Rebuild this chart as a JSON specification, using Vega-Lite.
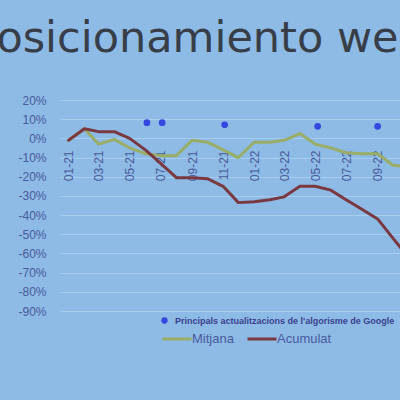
{
  "$schema": "https://vega.github.io/schema/vega-lite/v6.json",
  "width": 340,
  "height": 211,
  "autosize": {"type": "none"},
  "padding": {"left": 60, "top": 100, "right": 0, "bottom": 89},
  "background": "#8dbbe6",
  "config": {"view": {"stroke": null}, "font": "Liberation Sans"},
  "title": {
    "text": "Posicionamiento web",
    "anchor": "start",
    "frame": "group",
    "font": "DejaVu Sans",
    "fontSize": 43,
    "fontWeight": "normal",
    "color": "#373e48",
    "dx": -88,
    "offset": -1,
    "baseline": "alphabetic"
  },
  "datasets": {
    "series": [
      {"month": "2021-01-01", "series": "Mitjana", "value": -0.01},
      {"month": "2021-02-01", "series": "Mitjana", "value": 0.05},
      {"month": "2021-03-01", "series": "Mitjana", "value": -0.03},
      {"month": "2021-04-01", "series": "Mitjana", "value": -0.005},
      {"month": "2021-05-01", "series": "Mitjana", "value": -0.05},
      {"month": "2021-06-01", "series": "Mitjana", "value": -0.08},
      {"month": "2021-07-01", "series": "Mitjana", "value": -0.09},
      {"month": "2021-08-01", "series": "Mitjana", "value": -0.09},
      {"month": "2021-09-01", "series": "Mitjana", "value": -0.01},
      {"month": "2021-10-01", "series": "Mitjana", "value": -0.02},
      {"month": "2021-11-01", "series": "Mitjana", "value": -0.06},
      {"month": "2021-12-01", "series": "Mitjana", "value": -0.10},
      {"month": "2022-01-01", "series": "Mitjana", "value": -0.02},
      {"month": "2022-02-01", "series": "Mitjana", "value": -0.02},
      {"month": "2022-03-01", "series": "Mitjana", "value": -0.01},
      {"month": "2022-04-01", "series": "Mitjana", "value": 0.025},
      {"month": "2022-05-01", "series": "Mitjana", "value": -0.03},
      {"month": "2022-06-01", "series": "Mitjana", "value": -0.05},
      {"month": "2022-07-01", "series": "Mitjana", "value": -0.075},
      {"month": "2022-08-01", "series": "Mitjana", "value": -0.08},
      {"month": "2022-09-01", "series": "Mitjana", "value": -0.08},
      {"month": "2022-10-01", "series": "Mitjana", "value": -0.14},
      {"month": "2022-11-01", "series": "Mitjana", "value": -0.15},
      {"month": "2021-01-01", "series": "Acumulat", "value": -0.01},
      {"month": "2021-02-01", "series": "Acumulat", "value": 0.05},
      {"month": "2021-03-01", "series": "Acumulat", "value": 0.035},
      {"month": "2021-04-01", "series": "Acumulat", "value": 0.035},
      {"month": "2021-05-01", "series": "Acumulat", "value": 0.0},
      {"month": "2021-06-01", "series": "Acumulat", "value": -0.06},
      {"month": "2021-07-01", "series": "Acumulat", "value": -0.13},
      {"month": "2021-08-01", "series": "Acumulat", "value": -0.205},
      {"month": "2021-09-01", "series": "Acumulat", "value": -0.205},
      {"month": "2021-10-01", "series": "Acumulat", "value": -0.21},
      {"month": "2021-11-01", "series": "Acumulat", "value": -0.25},
      {"month": "2021-12-01", "series": "Acumulat", "value": -0.335},
      {"month": "2022-01-01", "series": "Acumulat", "value": -0.33},
      {"month": "2022-02-01", "series": "Acumulat", "value": -0.32},
      {"month": "2022-03-01", "series": "Acumulat", "value": -0.305},
      {"month": "2022-04-01", "series": "Acumulat", "value": -0.25},
      {"month": "2022-05-01", "series": "Acumulat", "value": -0.25},
      {"month": "2022-06-01", "series": "Acumulat", "value": -0.27},
      {"month": "2022-07-01", "series": "Acumulat", "value": -0.32},
      {"month": "2022-08-01", "series": "Acumulat", "value": -0.37},
      {"month": "2022-09-01", "series": "Acumulat", "value": -0.42},
      {"month": "2022-10-01", "series": "Acumulat", "value": -0.52},
      {"month": "2022-11-01", "series": "Acumulat", "value": -0.62}
    ],
    "updates": [
      {"month": "2021-06-04", "label": "Principals actualitzacions de l'algorisme de Google", "value": 0.082},
      {"month": "2021-07-04", "label": "Principals actualitzacions de l'algorisme de Google", "value": 0.082},
      {"month": "2021-11-04", "label": "Principals actualitzacions de l'algorisme de Google", "value": 0.071},
      {"month": "2022-05-06", "label": "Principals actualitzacions de l'algorisme de Google", "value": 0.063},
      {"month": "2022-09-01", "label": "Principals actualitzacions de l'algorisme de Google", "value": 0.063}
    ]
  },
  "layer": [
    {
      "data": {"name": "series"},
      "mark": {"type": "line", "strokeWidth": 3, "clip": true, "strokeCap": "round", "strokeJoin": "round"},
      "encoding": {
        "x": {
          "field": "month",
          "type": "temporal",
          "scale": {
            "type": "utc",
            "nice": false,
            "domain": [
              {"year": 2020, "month": 12, "date": 15, "utc": true},
              {"year": 2022, "month": 10, "date": 15, "utc": true}
            ]
          },
          "axis": {
            "title": null,
            "tickCount": 40,
            "values": [
              {"year": 2021, "month": 1, "date": 1, "utc": true},
              {"year": 2021, "month": 3, "date": 1, "utc": true},
              {"year": 2021, "month": 5, "date": 1, "utc": true},
              {"year": 2021, "month": 7, "date": 1, "utc": true},
              {"year": 2021, "month": 9, "date": 1, "utc": true},
              {"year": 2021, "month": 11, "date": 1, "utc": true},
              {"year": 2022, "month": 1, "date": 1, "utc": true},
              {"year": 2022, "month": 3, "date": 1, "utc": true},
              {"year": 2022, "month": 5, "date": 1, "utc": true},
              {"year": 2022, "month": 7, "date": 1, "utc": true},
              {"year": 2022, "month": 9, "date": 1, "utc": true}
            ],
            "format": "%m-%y",
            "labelAngle": -90,
            "labelAlign": "right",
            "labelBaseline": "middle",
            "labelPadding": 12,
            "labelFontSize": 12,
            "labelColor": "#4a5a98",
            "labelOverlap": false,
            "labelFlush": false,
            "ticks": false,
            "domain": false,
            "grid": false,
            "offset": -173
          }
        },
        "y": {
          "field": "value",
          "type": "quantitative",
          "scale": {"domain": [-0.9, 0.2], "nice": false, "zero": false},
          "axis": {
            "title": null,
            "tickCount": 40,
            "values": [-0.9, -0.8, -0.7, -0.6, -0.5, -0.4, -0.3, -0.2, -0.1, 0, 0.1, 0.2],
            "labelExpr": "round(datum.value*100) + '%'",
            "labelOverlap": false,
            "labelPadding": 14,
            "labelFontSize": 12,
            "labelColor": "#4a5a98",
            "ticks": false,
            "domain": false,
            "grid": true,
            "gridColor": "#a9cdee",
            "gridWidth": 1
          }
        },
        "stroke": {
          "field": "series",
          "type": "nominal",
          "sort": ["Mitjana", "Acumulat"],
          "scale": {"domain": ["Mitjana", "Acumulat"], "range": ["#99ad66", "#7a3840"]},
          "legend": {
            "title": null,
            "orient": "none",
            "direction": "horizontal",
            "legendX": 101,
            "legendY": 223,
            "padding": 0,
            "symbolType": "stroke",
            "symbolSize": 841,
            "symbolStrokeWidth": 3,
            "labelOffset": -1,
            "columnPadding": 7,
            "labelFontSize": 13,
            "labelColor": "#4a5a9c"
          }
        }
      }
    },
    {
      "data": {"name": "updates"},
      "mark": {"type": "point", "filled": true, "size": 45, "opacity": 1},
      "encoding": {
        "x": {"field": "month", "type": "temporal"},
        "y": {"field": "value", "type": "quantitative"},
        "fill": {
          "field": "label",
          "type": "nominal",
          "scale": {"range": ["#3448e0"]},
          "legend": {
            "title": null,
            "orient": "none",
            "legendX": 100,
            "legendY": 216,
            "padding": 0,
            "symbolType": "circle",
            "symbolSize": 40,
            "symbolStrokeWidth": 0,
            "labelOffset": 6,
            "labelFontSize": 9,
            "labelFontWeight": "bold",
            "labelColor": "#3a3f8c",
            "labelLimit": 400
          }
        }
      }
    }
  ]
}
